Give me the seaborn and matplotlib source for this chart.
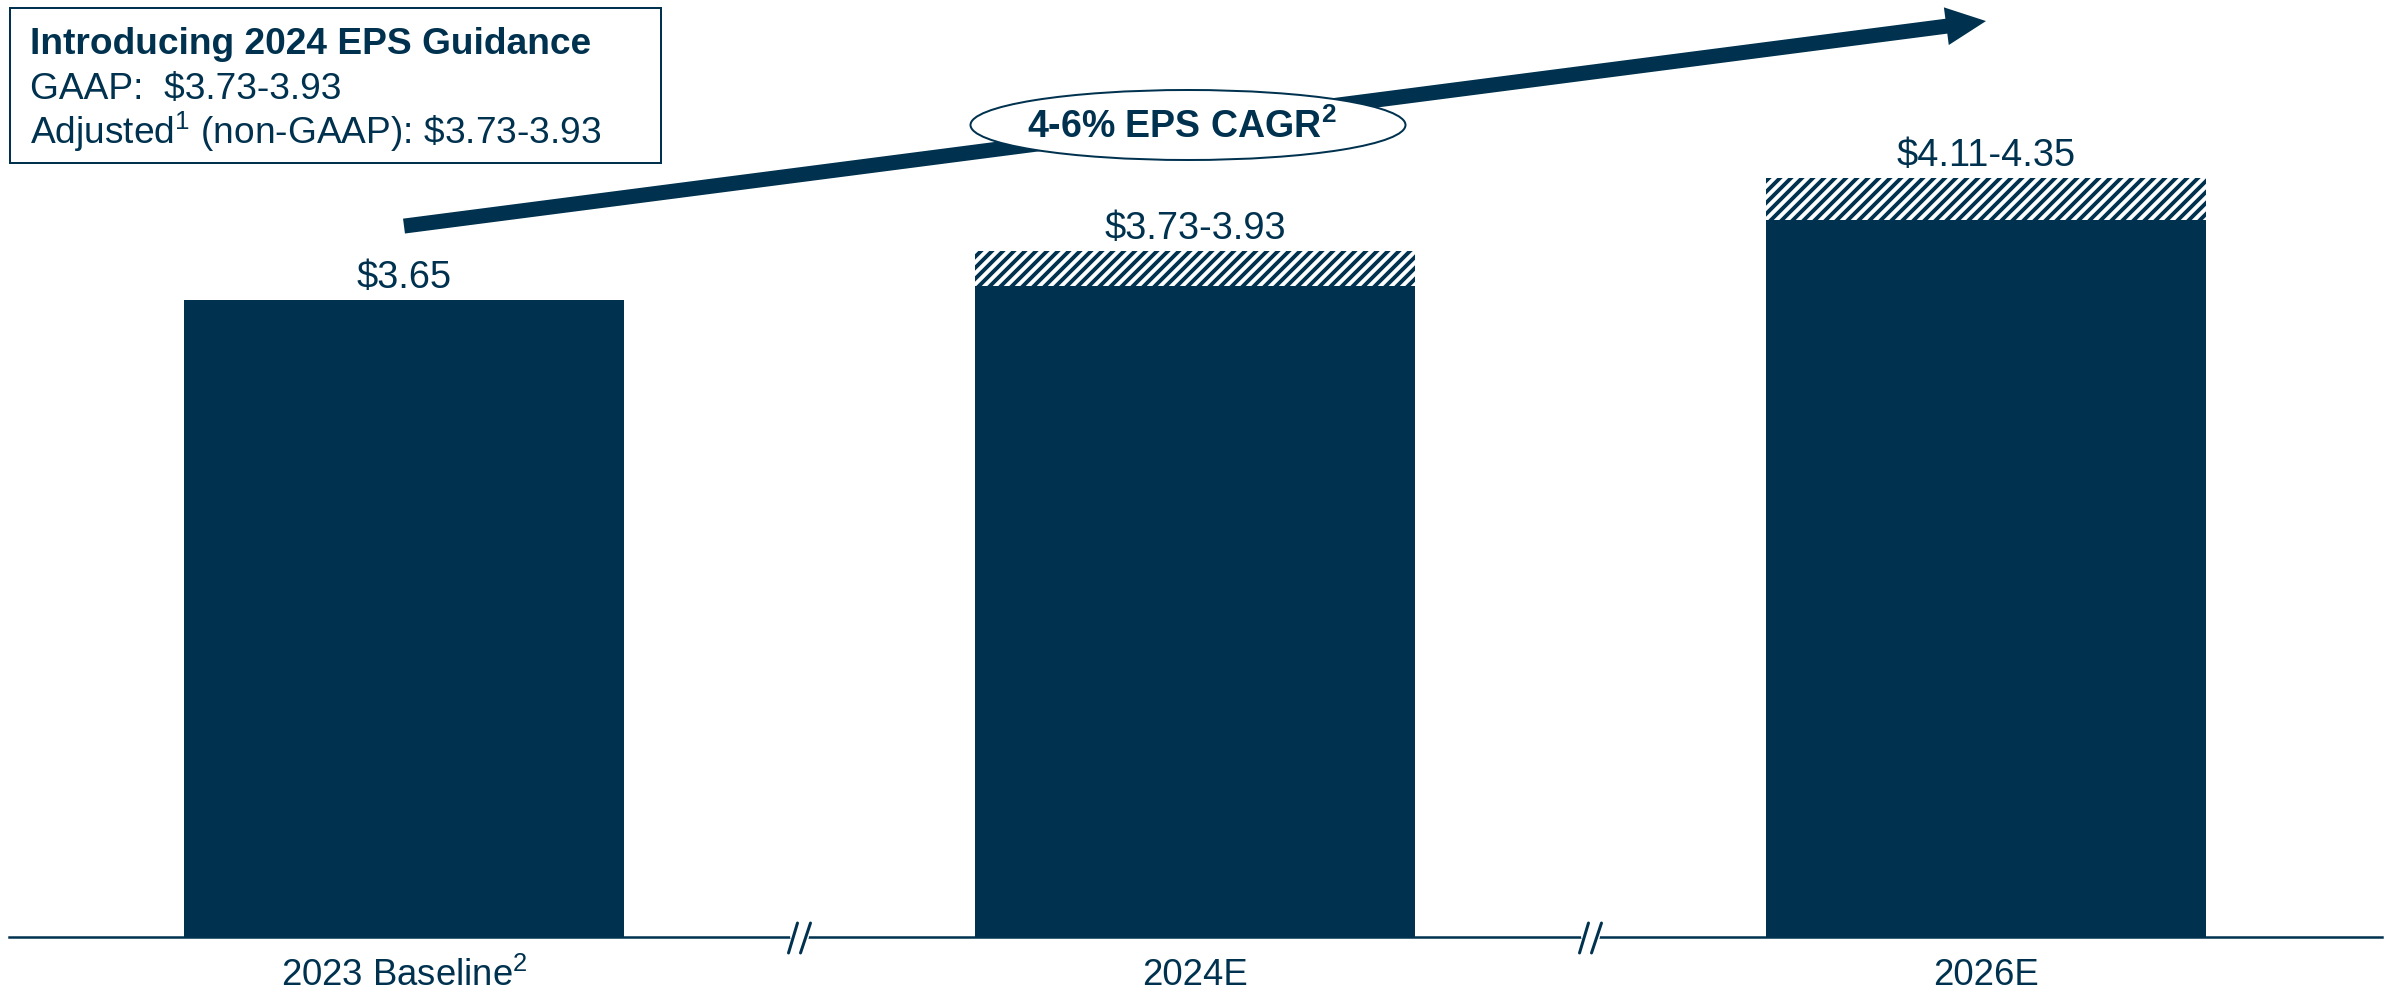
import numpy as np
import pandas as pd
import matplotlib
matplotlib.use("Agg")
import matplotlib.pyplot as plt
import seaborn as sns
from matplotlib.patches import Rectangle, Ellipse, FancyArrow
from matplotlib.lines import Line2D
from matplotlib.transforms import IdentityTransform

# ---------------- data ----------------
categories = ["2023 Baseline$^{2}$", "2024E", "2026E"]
eps_low = [3.65, 3.73, 4.11]
eps_high = [3.65, 3.93, 4.35]
value_labels = [r"\$3.65", r"\$3.73-3.93", r"\$4.11-4.35"]
box_title = "Introducing 2024 EPS Guidance"
box_lines = [r"GAAP:  \$3.73-3.93", r"Adjusted$^{1}$ (non-GAAP): \$3.73-3.93"]
cagr_label = r"4-6% EPS CAGR$^{\mathbf{2}}$"

# ---------------- style ----------------
W, H, DPI = 2392, 992, 132
NAVY = "#00324F"

sns.set_style("white")
plt.rcParams['font.family'] = ['Liberation Sans', 'DejaVu Sans']
plt.rcParams['mathtext.fontset'] = 'custom'
plt.rcParams['mathtext.rm'] = 'Liberation Sans'
plt.rcParams['mathtext.it'] = 'Liberation Sans:italic'
plt.rcParams['mathtext.bf'] = 'Liberation Sans:bold'
plt.rcParams['mathtext.default'] = 'regular'
plt.rcParams['hatch.linewidth'] = 2.1
plt.rcParams['hatch.color'] = NAVY


def pt(px):
    return px * 72.0 / DPI


fig = plt.figure(figsize=(W / DPI, H / DPI), dpi=DPI)
fig.patch.set_facecolor("white")
AX_BOTTOM_PX = 937  # pixel row (from top) of the baseline
ax = fig.add_axes([8.5 / W, (H - AX_BOTTOM_PX) / H, 2373 / W, AX_BOTTOM_PX / H])

df = pd.DataFrame({"cat": categories, "low": eps_low, "high": eps_high})
sns.barplot(data=df, x="cat", y="high", color="white", edgecolor=NAVY,
            hatch="////", linewidth=0, width=0.556, saturation=1,
            errorbar=None, ax=ax)
sns.barplot(data=df, x="cat", y="low", color=NAVY, edgecolor=NAVY,
            linewidth=0, width=0.556, saturation=1, errorbar=None, ax=ax)

ax.set_xlim(-0.5, 2.5)
ax.set_ylim(0, AX_BOTTOM_PX / 174.5)
ax.set_xlabel("")
ax.set_ylabel("")
ax.set_yticks([])
for s in ["top", "right", "left"]:
    ax.spines[s].set_visible(False)
ax.spines["bottom"].set_color(NAVY)
ax.spines["bottom"].set_linewidth(pt(2.5))
ax.tick_params(axis="x", length=0, pad=pt(21), labelsize=pt(36.5),
               labelcolor=NAVY)

# value labels above bars
for i, (h, lab) in enumerate(zip(eps_high, value_labels)):
    ax.annotate(lab, xy=(i, h), xytext=(0, pt(12)), textcoords="offset points",
                ha="center", va="baseline", fontsize=pt(38), color=NAVY)

# guidance box (top-left)
fig.add_artist(Rectangle((10 / W, 1 - 163 / H), (661 - 10) / W, (163 - 8) / H,
                         transform=fig.transFigure, fill=False,
                         edgecolor=NAVY, linewidth=pt(2)))
fig.text(30 / W, 1 - 54 / H, box_title, weight="bold", fontsize=pt(37.2),
         color=NAVY, va="baseline")
fig.text(30 / W, 1 - 99 / H, box_lines[0], fontsize=pt(37.2), color=NAVY,
         va="baseline")
fig.text(30 / W, 1 - 144 / H, box_lines[1], fontsize=pt(37.2), color=NAVY,
         va="baseline")

# growth arrow from above first bar to above last bar
tail = ax.transData.transform((0, 4.074))
tip = ax.transData.transform((2, 5.249))
arrow = FancyArrow(tail[0], tail[1], tip[0] - tail[0], tip[1] - tail[1],
                   width=15, head_width=38, head_length=40,
                   length_includes_head=True, color=NAVY, linewidth=0,
                   transform=IdentityTransform(), zorder=3)
fig.add_artist(arrow)

# CAGR ellipse
fig.add_artist(Ellipse((1188, H - 125), 435, 70, transform=IdentityTransform(),
                       facecolor="white", edgecolor=NAVY, linewidth=pt(2),
                       zorder=4))
fig.text(1182 / W, 1 - 138 / H, cagr_label, ha="center", va="baseline",
         weight="bold", fontsize=pt(37.5), color=NAVY, zorder=5)

# axis break marks between categories
for xb in [0.5, 1.5]:
    bx, by = ax.transData.transform((xb, 0))
    fig.add_artist(Line2D([bx - 7, bx + 6], [by, by], color="white",
                          lw=pt(6), transform=IdentityTransform(), zorder=5))
    for x0, x1 in [(-11, -2), (1, 11)]:
        fig.add_artist(Line2D([bx + x0, bx + x1], [by - 16, by + 14],
                              color=NAVY, lw=pt(3),
                              transform=IdentityTransform(), zorder=6))

fig.savefig("out.png", dpi=DPI, facecolor="white")
